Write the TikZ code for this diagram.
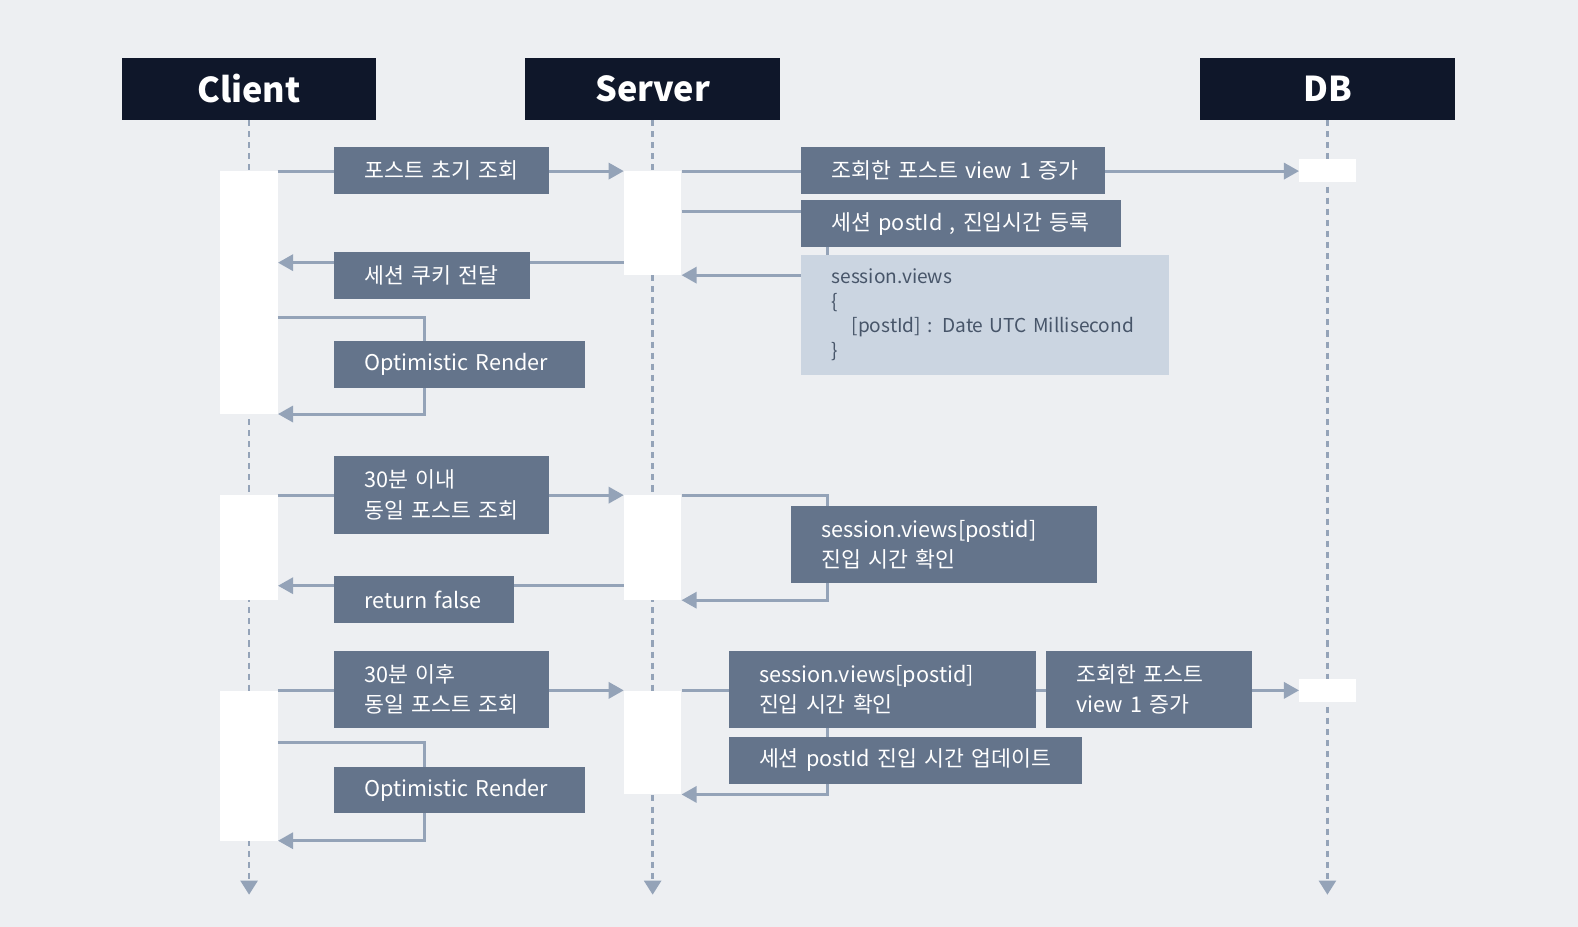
\documentclass[tikz,border=0pt]{standalone}
\usepackage{fontspec}
\setmainfont{Noto Sans CJK KR}
\usetikzlibrary{arrows.meta,positioning,calc}
\definecolor{bgcol}{HTML}{EDEFF2}
\definecolor{headcol}{HTML}{0F172A}
\definecolor{boxcol}{HTML}{64748B}
\definecolor{linecol}{HTML}{94A3B8}
\definecolor{notecol}{HTML}{CBD5E1}
\definecolor{notetext}{HTML}{475569}
\begin{document}
\begin{tikzpicture}[
    x=1pt, y=-1pt,
    head/.style={fill=headcol, text=white, font=\fontsize{34}{34}\selectfont\bfseries, minimum width=253pt, minimum height=62pt, inner sep=0pt, anchor=north},
    act/.style={fill=white, minimum width=57pt, inner sep=0pt, anchor=north},
    lbl/.style={fill=boxcol, text=white, font=\fontsize{21.5}{30}\selectfont, inner xsep=30pt, inner ysep=0pt, minimum height=47pt, align=left, anchor=north west},
    life/.style={draw=linecol, line width=2.4pt, dash pattern=on 6pt off 5pt, -{Triangle[length=14pt, width=17pt]}},
    msg/.style={draw=linecol, line width=3pt, -{Triangle[length=15pt, width=16pt]}}
]
\path[use as bounding box, fill=bgcol] (0,0) rectangle (1568,921);

\node[head] (client) at (247.5,57) {Client};
\node[head] (server) at (648.5,57) {Server};
\node[head] (db) at (1319,57) {DB};

\coordinate (bot) at (0,889);
\draw[life] (client.south) -- (client.south |- bot);
\draw[life] (server.south) -- (server.south |- bot);
\draw[life] (db.south) -- (db.south |- bot);

\node[act, minimum height=241pt] (c1) at (247.5,170) {};
\node[act, minimum height=104pt] (c2) at (247.5,492) {};
\node[act, minimum height=149pt] (c3) at (247.5,686) {};
\node[act, minimum height=103pt] (s1) at (648.5,170) {};
\node[act, minimum height=104pt] (s2) at (648.5,492) {};
\node[act, minimum height=103pt] (s3) at (648.5,686) {};
\node[act, minimum width=56pt, minimum height=23pt] (d1) at (1319,158) {};
\node[act, minimum width=56pt, minimum height=23pt] (d2) at (1319,674) {};

\coordinate (k1) at (822,210);
\coordinate (k2) at (422,315);
\coordinate (k3) at (822,492);
\coordinate (k4) at (822,686);
\coordinate (k5) at (422,738);
\coordinate (r1) at (0,261);
\coordinate (r2) at (0,582);

\draw[msg] (c1.north east) -- (s1.north west);
\draw[msg] (s1.north east) -- (s1.north east -| d1.west);
\draw[msg] (s1.east |- k1) -- (k1) |- (s1.south east);
\draw[msg] (s1.west |- r1) -- (c1.east |- r1);
\draw[msg] (c1.east |- k2) -- (k2) |- (c1.south east);

\draw[msg] (c2.north east) -- (s2.north west);
\draw[msg] (s2.north east) -- (k3) |- (s2.south east);
\draw[msg] (s2.west |- r2) -- (c2.east |- r2);

\draw[msg] (c3.north east) -- (s3.north west);
\draw[msg] (s3.north east) -- (s3.north east -| d2.west);
\draw[msg] (k4) |- (s3.south east);
\draw[msg] (c3.east |- k5) -- (k5) |- (c3.south east);

\node[lbl, text width=153pt] (first) at (332,146) {포스트 초기 조회};
\node[lbl, text width=242pt] (inc1) at (796,146) {\mbox{조회한 포스트 view 1 증가}};
\node[lbl, text width=258pt, minimum height=46pt] (reg) at (796,199) {\mbox{세션 postId , 진입시간 등록}};
\node[lbl, fill=notecol, text=notetext, text width=305pt, minimum height=119pt, font=\fontsize{19}{24.7}\selectfont] (note) at (796,253)
    {session.views\\\{\\\hspace*{20pt}[postId] : Date UTC Millisecond\\\}};
\node[lbl, text width=134pt] (cookie) at (332,250) {\mbox{세션 쿠키 전달}};
\node[lbl, text width=189pt, minimum height=46pt] (render1) at (332,339) {Optimistic Render};

\node[lbl, text width=153pt, minimum height=77pt] (within) at (332,453) {30분 이내\\동일 포스트 조회};
\node[lbl, text width=244pt, minimum height=76pt] (check1) at (786,503) {session.views[postid]\\진입 시간 확인};
\node[lbl, text width=119pt] (false) at (332,572) {return false};

\node[lbl, text width=153pt, minimum height=76pt] (after) at (332,647) {30분 이후\\동일 포스트 조회};
\node[lbl, text width=245pt, minimum height=76pt] (check2) at (724,647) {session.views[postid]\\진입 시간 확인};
\node[lbl, text width=144pt, minimum height=76pt, right=10pt of check2.north east, anchor=north west] (inc2) {조회한 포스트\\view 1 증가};
\node[lbl, text width=291pt, minimum height=46pt, below=9pt of check2.south west, anchor=north west] (update) {\mbox{세션 postId 진입 시간 업데이트}};
\node[lbl, text width=189pt, minimum height=46pt] (render2) at (332,762) {Optimistic Render};
\end{tikzpicture}
\end{document}
